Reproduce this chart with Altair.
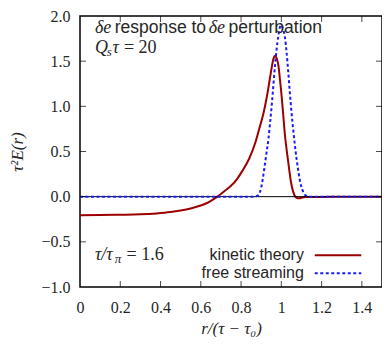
import altair as alt
import pandas as pd

# ---- data ----
r_kin = [0.00, 0.10, 0.20, 0.30, 0.38, 0.45, 0.50, 0.55, 0.60, 0.64, 0.66, 0.682,
         0.70, 0.723, 0.75, 0.78, 0.805, 0.84, 0.871, 0.89, 0.911, 0.925, 0.936,
         0.95, 0.961, 0.969, 0.977, 0.985, 0.993, 1.002, 1.010, 1.018, 1.028,
         1.038, 1.048, 1.059, 1.068, 1.078, 1.09, 1.10, 1.12, 1.15, 1.25, 1.35, 1.50]
e_kin = [-0.205, -0.203, -0.200, -0.195, -0.185, -0.170, -0.153, -0.130, -0.098,
         -0.060, -0.033, 0.000, 0.030, 0.070, 0.120, 0.195, 0.280, 0.420, 0.600,
         0.750, 0.920, 1.070, 1.210, 1.400, 1.530, 1.560, 1.530, 1.460, 1.300,
         1.100, 0.890, 0.680, 0.490, 0.320, 0.160, 0.053, 0.005, -0.015, -0.018,
         -0.012, -0.005, -0.003, -0.002, -0.001, 0.000]

r_fs = [0.00, 0.50, 0.86, 0.875, 0.887, 0.90, 0.916, 0.926, 0.936, 0.945, 0.953,
        0.961, 0.969, 0.977, 0.985, 0.992, 0.998, 1.005, 1.011, 1.018, 1.026,
        1.034, 1.042, 1.051, 1.061, 1.071, 1.082, 1.092, 1.104, 1.117, 1.13,
        1.14, 1.50]
e_fs = [0.0, 0.0, 0.0, 0.005, 0.02, 0.10, 0.32, 0.48, 0.64, 0.84, 1.03, 1.25,
        1.46, 1.64, 1.78, 1.87, 1.90, 1.88, 1.84, 1.76, 1.60, 1.39, 1.16, 0.92,
        0.70, 0.50, 0.32, 0.18, 0.08, 0.02, 0.005, 0.0, 0.0]

series_names = ["kinetic theory", "free streaming"]
x_ticks = [0, 0.2, 0.4, 0.6, 0.8, 1.0, 1.2, 1.4]
y_ticks = [-1.0, -0.5, 0.0, 0.5, 1.0, 1.5, 2.0]
x_domain = [0, 1.5]
y_domain = [-1.0, 2.0]

RED = "#9b0000"
BLUE = "#1a1aff"
SANS = "Liberation Sans"
SERIF = "Liberation Serif"
TXT = "#262626"

df_kin = pd.DataFrame({"r": r_kin, "v": e_kin})
df_fs = pd.DataFrame({"r": r_fs, "v": e_fs})

xs = alt.Scale(domain=x_domain, nice=False, zero=False)
ys = alt.Scale(domain=y_domain, nice=False, zero=False)

X_main = alt.X("r:Q", scale=xs, title="r/(τ − τ₀)",
               axis=alt.Axis(values=x_ticks, format="~g", labelFlush=False,
                             labelOverlap=False, labelPadding=12,
                             titlePadding=5))
Y_main = alt.Y("v:Q", scale=ys, title="τ²E(r)",
               axis=alt.Axis(values=y_ticks, format=".1f", labelFlush=False,
                             labelOverlap=False, labelPadding=10,
                             titlePadding=14))
Xn = alt.X("r:Q")
Yn = alt.Y("v:Q")

zero = alt.Chart(pd.DataFrame({"v": [0.0]})).mark_rule(
    color="black", strokeWidth=1).encode(y=Yn)

fs = alt.Chart(df_fs).mark_line(color=BLUE, strokeWidth=2, strokeDash=[3, 2.5],
                                interpolate="monotone").encode(x=Xn, y=Yn)
kin = alt.Chart(df_kin).mark_line(color=RED, strokeWidth=2,
                                  interpolate="monotone").encode(x=X_main, y=Y_main)

# inward ticks on all four sides
xi = [t for t in x_ticks if 0 < t < 1.5]
yi = [t for t in y_ticks if -1.0 < t < 2.0]
tick_layers = []
for yv in y_domain:
    tick_layers.append(alt.Chart(pd.DataFrame({"r": xi, "v": [yv] * len(xi)})).mark_tick(
        orient="vertical", size=12, thickness=1, color="black", clip=True).encode(x=Xn, y=Yn))
for xv in x_domain:
    tick_layers.append(alt.Chart(pd.DataFrame({"r": [xv] * len(yi), "v": yi})).mark_tick(
        orient="horizontal", size=12, thickness=1, color="black", clip=True).encode(x=Xn, y=Yn))


def txt(s, x, y, size=16, font=SANS, style="normal", align="left", dy=0, color=TXT):
    return alt.Chart(pd.DataFrame({"r": [x], "v": [y], "t": [s]})).mark_text(
        align=align, baseline="alphabetic", fontSize=size, font=font,
        fontStyle=style, color=color, dy=dy).encode(x=Xn, y=Yn, text="t:N")


texts = [
    txt("δe", 0.074, 1.816, size=18, font=SERIF, style="italic"),
    txt("response to", 0.172, 1.816, size=17.5),
    txt("δe", 0.639, 1.816, size=18, font=SERIF, style="italic"),
    txt("perturbation", 0.738, 1.816, size=17.5),
    txt("Q", 0.074, 1.585, size=18, font=SERIF, style="italic"),
    txt("s", 0.133, 1.585, size=13, font=SERIF, style="italic", dy=3),
    txt("τ", 0.162, 1.585, size=18, font=SERIF, style="italic"),
    txt("= 20", 0.218, 1.585, size=18, font=SERIF),
    txt("τ/τ", 0.074, -0.70, size=18, font=SERIF, style="italic"),
    txt("π", 0.173, -0.70, size=13, font=SERIF, style="italic", dy=3),
    txt("= 1.6", 0.231, -0.70, size=18, font=SERIF),
    txt(series_names[0], 1.112, -0.70, align="right"),
    txt(series_names[1], 1.112, -0.90, align="right"),
]

leg_red = alt.Chart(pd.DataFrame({"r": [1.166], "r2": [1.397], "v": [-0.648]})).mark_rule(
    color=RED, strokeWidth=2).encode(x=Xn, x2="r2:Q", y=Yn)
leg_blue = alt.Chart(pd.DataFrame({"r": [1.166], "r2": [1.397], "v": [-0.848]})).mark_rule(
    color=BLUE, strokeWidth=2, strokeDash=[3, 2.5]).encode(x=Xn, x2="r2:Q", y=Yn)

chart = alt.layer(
    kin, zero, fs, *tick_layers, *texts, leg_red, leg_blue
).properties(
    width=302, height=271,
    autosize=alt.AutoSizeParams(type="none"),
    padding={"left": 72, "top": 8, "right": 0, "bottom": 50},
    background="white",
).configure_view(
    stroke="black", strokeWidth=1.5
).configure_axis(
    grid=False, ticks=False, domain=False,
    labelFont=SERIF, labelFontSize=16, labelColor=TXT,
    titleFont=SERIF, titleFontSize=17, titleFontStyle="italic",
    titleFontWeight="normal", titleColor=TXT,
)

chart.save("out.html", embed_options={"renderer": "svg", "actions": False})
